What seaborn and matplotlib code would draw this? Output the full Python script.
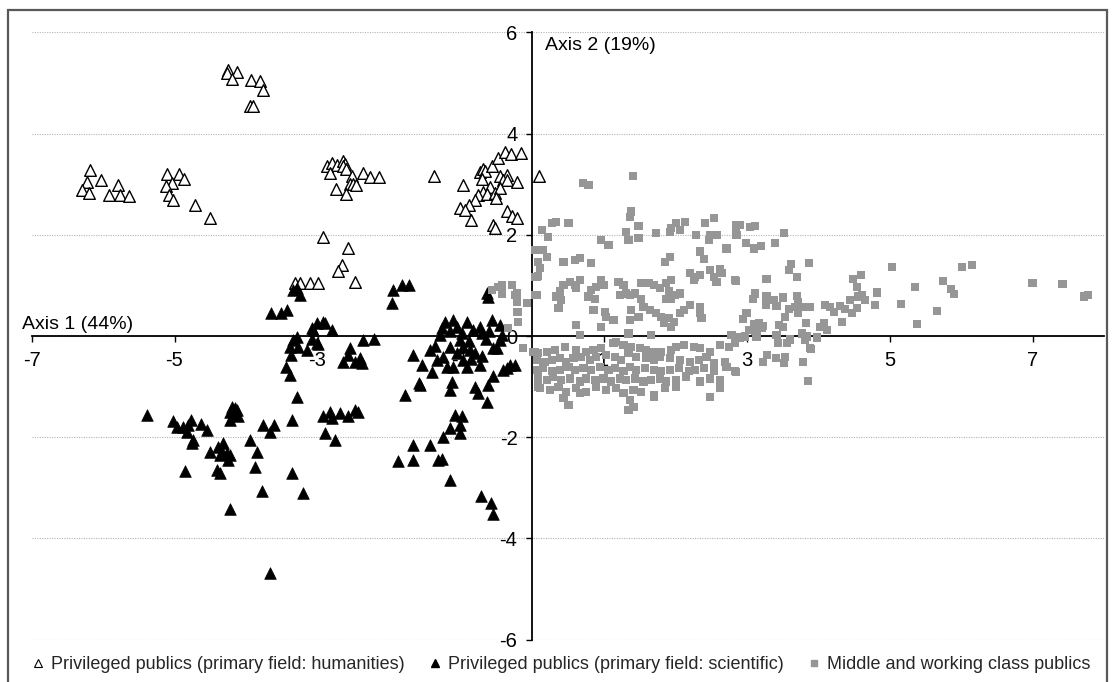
import matplotlib
matplotlib.use("Agg")
import matplotlib.pyplot as plt
from matplotlib.lines import Line2D
from matplotlib.patches import Rectangle
import pandas as pd
import seaborn as sns

# Factor scores (Axis 1, Axis 2) for each respondent group
humanities = [
    (-4.25, 5.26), (-4.13, 5.22), (-4.27, 5.19), (-4.19, 5.07), (-3.93, 5.05), (-3.81, 5.03),
    (-3.76, 4.86), (-3.94, 4.55), (-3.90, 4.55),
    (-6.18, 3.29), (-6.22, 3.05), (-6.03, 3.08), (-6.30, 2.89), (-6.19, 2.82), (-5.91, 2.79),
    (-5.79, 2.98), (-5.76, 2.79), (-5.63, 2.77),
    (-5.11, 3.20), (-4.94, 3.20), (-4.87, 3.10), (-5.04, 3.03), (-5.12, 2.96), (-5.07, 2.79),
    (-5.02, 2.69), (-4.71, 2.59), (-4.51, 2.34),
    (-2.87, 3.36), (-2.80, 3.41), (-2.73, 3.38), (-2.65, 3.46), (-2.62, 3.40), (-2.64, 3.35),
    (-2.60, 3.31), (-2.83, 3.22), (-2.52, 3.16), (-2.55, 3.00), (-2.50, 3.00), (-2.46, 2.98),
    (-2.36, 3.22), (-2.26, 3.14), (-2.14, 3.14), (-2.74, 2.90), (-2.60, 2.81),
    (-2.93, 1.96), (-2.58, 1.74), (-2.66, 1.40), (-2.72, 1.28), (-2.48, 1.07), (-3.31, 1.05),
    (-3.24, 1.05), (-3.10, 1.05), (-2.99, 1.05),
    (-1.37, 3.16), (-0.96, 2.98), (-0.73, 3.25), (-0.69, 3.31), (-0.66, 3.27), (-0.70, 3.10),
    (-0.56, 3.36), (-0.47, 3.51), (-0.38, 3.64), (-0.30, 3.60), (-0.16, 3.62), (-0.45, 3.16),
    (-0.35, 3.18), (-0.40, 3.08), (-0.35, 3.08), (-0.21, 3.05), (-0.59, 2.95), (-0.68, 2.85),
    (-0.75, 2.79), (-0.63, 2.81), (-0.52, 2.83), (-0.45, 2.92), (-0.50, 2.72), (-0.80, 2.69),
    (-0.88, 2.59), (-1.01, 2.52), (-0.94, 2.49), (-0.86, 2.29), (-0.35, 2.48), (-0.28, 2.37),
    (-0.21, 2.33), (-0.54, 2.19), (-0.52, 2.13), (0.10, 3.16),
]

scientific = [
    (-5.38, -1.56), (-5.02, -1.67), (-4.97, -1.79), (-4.88, -1.79), (-4.81, -1.76), (-4.77, -1.66),
    (-4.83, -1.89), (-4.63, -1.74), (-4.55, -1.86), (-4.74, -2.06), (-4.76, -2.12), (-4.50, -2.29),
    (-4.39, -2.19), (-4.32, -2.12), (-4.34, -2.29), (-4.27, -2.32), (-4.22, -2.35), (-4.36, -2.35),
    (-4.25, -2.45), (-4.41, -2.65), (-4.36, -2.70), (-4.85, -2.66), (-4.22, -3.42), (-4.20, -1.40),
    (-4.16, -1.43), (-4.13, -1.46), (-4.22, -1.50), (-4.18, -1.56), (-4.11, -1.59), (-4.22, -1.66),
    (-3.94, -2.06), (-3.85, -2.29), (-3.87, -2.58), (-3.76, -1.76), (-3.66, -1.89), (-3.61, -1.76),
    (-3.77, -3.06), (-3.35, -1.66), (-3.36, -2.71), (-3.20, -3.11), (-3.66, -4.68), (-3.29, -1.21),
    (-3.44, -0.62), (-3.38, -0.77), (-3.65, 0.46), (-3.51, 0.45), (-3.42, 0.51), (-3.38, -0.21),
    (-3.34, -0.08), (-3.29, -0.01), (-3.27, -0.21), (-3.15, -0.28), (-3.37, -0.38), (-3.01, 0.25),
    (-3.08, 0.15), (-3.01, -0.14), (-2.90, 0.25), (-2.92, -1.59), (-2.90, -1.92),
    (-3.29, 0.94), (-3.24, 0.81), (-3.34, 0.91),
    (-2.92, 0.28), (-2.80, 0.12), (-3.06, 0.12), (-3.08, -0.05), (-2.99, -0.16),
    (-2.55, -0.24), (-2.57, -0.38), (-2.64, -0.51), (-2.48, -0.51), (-2.41, -0.44), (-2.38, -0.54),
    (-2.36, -0.08), (-2.21, -0.05),
    (-2.83, -1.50), (-2.80, -1.63), (-2.69, -1.52), (-2.57, -1.59), (-2.48, -1.46), (-2.43, -1.50),
    (-2.76, -2.06),
    (-1.94, 0.90), (-1.82, 1.01), (-1.72, 1.01), (-1.96, 0.66),
    (-1.66, -0.38), (-1.78, -1.17), (-1.58, -0.93), (-1.56, -0.97), (-1.54, -0.57), (-1.43, -0.28),
    (-1.40, -0.71), (-1.33, -0.47),
    (-1.29, 0.02), (-1.26, 0.15), (-1.22, 0.28), (-1.10, 0.32), (-1.05, 0.18), (-0.91, 0.28),
    (-0.82, 0.12), (-0.73, 0.18), (-0.70, 0.05), (-0.56, 0.32), (-0.45, 0.22), (-0.42, 0.02),
    (-0.45, -0.08), (-0.54, -0.24), (-0.49, -0.24),
    (-1.24, -0.41), (-1.19, -0.61), (-1.15, -0.21), (-1.10, -0.61), (-1.05, -0.34), (-1.01, -0.08),
    (-0.96, -0.47), (-0.91, -0.61), (-0.87, -0.28), (-0.80, -0.34), (-0.73, -0.57), (-0.96, -0.21),
    (-1.12, -0.90), (-1.15, -1.07), (-0.80, -1.00), (-0.75, -1.13), (-0.63, -1.30), (-0.61, -0.97),
    (-0.54, -0.80), (-0.40, -0.67), (-0.35, -0.64), (-0.31, -0.57), (-0.24, -0.57), (-0.63, 0.84),
    (-0.61, 0.78),
    (-1.15, 0.10), (-0.98, 0.05), (-0.88, -0.10), (-0.65, -0.05), (-0.60, 0.10), (-1.35, -0.20),
    (-0.70, -0.40), (-0.85, -0.45),
    (-1.08, -1.56), (-0.98, -1.59), (-1.01, -1.76), (-1.15, -1.82), (-1.01, -1.92), (-1.24, -1.99),
    (-1.66, -2.15), (-1.43, -2.15), (-1.88, -2.48), (-1.66, -2.45), (-1.31, -2.45), (-1.26, -2.44),
    (-1.14, -2.85), (-0.71, -3.16), (-0.58, -3.31), (-0.55, -3.52),
]

middle_working = [
    # upper band
    (1.41, 3.16), (0.71, 3.02), (0.79, 2.98), (1.38, 2.46), (1.37, 2.36), (0.28, 2.23), (0.34, 2.26),
    (0.51, 2.23), (0.14, 2.09), (0.23, 1.96), (1.49, 2.17), (1.32, 2.06), (1.35, 1.90), (1.49, 1.93),
    (0.97, 1.90), (1.07, 1.80), (1.74, 2.03), (1.93, 2.06), (2.02, 2.23), (2.14, 2.26), (2.07, 2.09),
    (1.95, 2.13), (2.42, 2.23), (2.54, 2.33), (2.49, 2.00), (2.58, 2.00), (2.30, 2.00), (2.47, 1.90),
    (2.72, 1.73), (2.86, 2.19), (2.86, 2.00), (0.04, 1.70), (0.16, 1.70), (0.21, 1.57), (0.09, 1.47),
    (0.11, 1.34), (0.04, 1.17), (0.09, 1.19), (0.44, 1.47), (0.60, 1.50), (0.67, 1.55), (0.83, 1.45),
    (1.86, 1.47), (1.93, 1.57), (2.35, 1.67), (2.40, 1.53),
    # middle band
    (2.21, 1.24), (2.28, 1.17), (2.35, 1.21), (2.26, 1.11), (2.49, 1.30), (2.63, 1.32), (2.54, 1.17),
    (2.58, 1.07), (2.65, 1.24), (2.84, 1.11), (-0.47, 0.97), (-0.42, 0.88), (-0.28, 1.01),
    (-0.24, 0.81), (-0.21, 0.68), (-0.07, 0.65), (-0.19, 0.48), (-0.19, 0.28), (0.04, 0.81),
    (0.37, 0.55), (0.41, 0.71), (0.44, 1.01), (0.53, 1.07), (0.60, 1.01), (0.62, 0.94), (0.67, 1.11),
    (0.83, 0.91), (0.90, 0.97), (1.00, 1.01), (0.88, 0.74), (0.79, 0.78), (0.86, 0.51), (1.02, 0.48),
    (1.04, 0.38), (1.14, 0.32), (0.97, 1.11), (1.21, 1.07), (1.28, 1.01), (1.32, 0.84), (1.23, 0.81),
    (1.37, 0.81), (1.44, 0.84), (1.53, 1.04), (1.63, 1.04), (1.70, 1.01), (1.79, 0.94), (1.88, 1.04),
    (1.95, 1.11), (1.91, 0.88), (2.00, 0.81), (2.07, 0.84), (1.88, 0.74), (1.95, 0.74), (1.56, 0.58),
    (1.65, 0.51), (1.74, 0.45), (1.81, 0.38), (1.91, 0.35), (1.98, 0.28), (2.07, 0.45), (2.12, 0.51),
    (2.21, 0.61), (2.35, 0.58), (2.35, 0.45), (2.37, 0.35), (1.95, 0.18), (1.84, 0.25), (1.53, 0.74),
    (1.37, 0.32), (1.35, 0.05), (1.67, 0.02), (1.49, 0.38), (1.39, 0.51), (0.97, 0.18), (0.62, 0.22),
    (0.67, 0.02), (0.34, 0.78), (0.39, 0.88),
    (-0.56, 0.91), (-0.42, 1.01), (-0.42, 0.84), (-0.28, 1.01), (-0.21, 0.84), (-0.07, 0.65),
    (-0.21, 0.48), (-0.19, 0.28), (-0.33, 0.15), (0.07, 1.17), (0.07, 0.81), (-0.12, -0.24),
    (0.04, -0.31), (0.09, -0.77), (0.09, -1.00),
    # lower band
    (-0.13, -0.24), (0.02, -0.31), (0.09, -0.33), (0.21, -0.31), (0.32, -0.28), (0.46, -0.21),
    (0.62, -0.28), (0.76, -0.31), (0.86, -0.28), (0.97, -0.24), (1.14, -0.14), (1.18, -0.11),
    (1.28, -0.18), (1.39, -0.21), (1.51, -0.24), (1.60, -0.28), (1.70, -0.31), (1.81, -0.31),
    (1.95, -0.28), (2.02, -0.21), (2.12, -0.18), (2.26, -0.21), (2.35, -0.24), (2.49, -0.31),
    (2.63, -0.18), (2.75, -0.21), (2.84, -0.14),
    (0.07, -0.47), (0.18, -0.51), (0.28, -0.47), (0.39, -0.44), (0.48, -0.51), (0.58, -0.44),
    (0.69, -0.41), (0.81, -0.47), (0.90, -0.41), (1.04, -0.38), (1.16, -0.41), (1.25, -0.47),
    (1.35, -0.34), (1.46, -0.41), (1.60, -0.44), (1.70, -0.47), (1.79, -0.41), (1.93, -0.44),
    (2.07, -0.47), (2.21, -0.51), (2.33, -0.47), (2.44, -0.41), (2.54, -0.54), (2.70, -0.51),
    (0.07, -0.67), (0.16, -0.64), (0.28, -0.70), (0.39, -0.67), (0.51, -0.61), (0.60, -0.67),
    (0.72, -0.64), (0.83, -0.67), (0.95, -0.61), (1.07, -0.67), (1.16, -0.64), (1.28, -0.70),
    (1.37, -0.61), (1.46, -0.67), (1.58, -0.64), (1.70, -0.67), (1.81, -0.70), (1.93, -0.67),
    (2.05, -0.64), (2.19, -0.70), (2.28, -0.67), (2.40, -0.64), (2.54, -0.70), (2.72, -0.61),
    (2.84, -0.70),
    (0.09, -0.84), (0.21, -0.87), (0.30, -0.80), (0.41, -0.87), (0.53, -0.84), (0.67, -0.90),
    (0.76, -0.84), (0.88, -0.87), (1.00, -0.84), (1.11, -0.90), (1.23, -0.84), (1.32, -0.87),
    (1.44, -0.84), (1.56, -0.90), (1.67, -0.87), (1.79, -0.84), (1.88, -0.90), (2.02, -0.87),
    (2.16, -0.80), (2.35, -0.90), (2.49, -0.84), (2.63, -0.87),
    (0.11, -1.03), (0.25, -1.07), (0.37, -1.00), (0.48, -1.10), (0.62, -1.03), (0.76, -1.10),
    (0.90, -1.00), (1.04, -1.07), (1.18, -1.03), (1.28, -1.13), (1.42, -1.07), (1.53, -1.10),
    (1.70, -1.17), (1.86, -1.03), (2.02, -1.00), (2.49, -1.20), (2.63, -1.03),
    (0.51, -1.36), (0.67, -1.13), (1.37, -1.26), (1.42, -1.40), (1.35, -1.46), (0.44, -1.23),
    (1.70, -1.20),
    # right-hand spread
    (2.85, 2.06), (2.91, 2.19), (3.05, 2.16), (3.12, 2.17), (3.52, 2.04), (2.99, 1.84), (3.10, 1.73),
    (3.20, 1.77), (3.40, 1.84), (3.62, 1.42), (3.60, 1.30), (3.87, 1.45), (3.70, 1.16), (2.85, 1.09),
    (3.28, 1.13), (3.12, 0.84), (3.09, 0.73), (3.28, 0.78), (3.27, 0.61), (3.38, 0.71), (3.42, 0.59),
    (3.51, 0.76), (3.70, 0.79), (3.72, 0.68), (3.60, 0.53), (3.68, 0.57), (3.77, 0.57), (3.89, 0.57),
    (3.72, 0.45), (3.54, 0.37), (3.51, 0.18), (3.45, 0.22), (3.00, 0.46), (2.95, 0.33), (3.10, 0.24),
    (3.17, 0.25), (3.23, 0.20), (3.03, 0.11), (3.12, 0.09), (3.21, 0.15), (3.14, -0.01), (2.98, -0.01),
    (2.79, 0.02), (2.91, -0.03), (3.42, 0.02), (3.61, -0.07), (3.57, -0.13), (3.44, -0.14),
    (3.77, 0.05), (3.84, -0.01), (3.99, -0.03), (3.82, -0.07), (3.89, -0.24), (3.83, 0.26),
    (4.03, 0.18), (4.08, 0.25), (4.12, 0.11), (4.10, 0.61), (4.17, 0.58), (4.22, 0.48), (4.31, 0.59),
    (4.38, 0.53), (4.33, 0.28), (4.45, 0.71), (4.48, 0.46), (4.54, 0.55), (4.56, 0.78), (4.61, 0.81),
    (4.66, 0.71), (4.55, 0.96), (4.49, 1.13), (4.60, 1.21), (4.82, 0.86), (4.80, 0.61), (5.03, 1.37),
    (5.16, 0.63), (5.36, 0.97), (5.39, 0.24), (5.66, 0.50), (5.75, 1.09), (5.86, 0.92), (5.90, 0.83),
    (6.01, 1.37), (6.16, 1.41), (7.00, 1.05), (7.42, 1.03), (7.72, 0.78), (7.78, 0.81),
    (3.23, -0.51), (3.29, -0.38), (3.41, -0.44), (3.52, -0.54), (3.54, -0.41), (3.79, -0.51),
    (3.90, -0.26), (2.85, -0.72), (3.86, -0.89),
]

group_labels = [
    "Privileged publics (primary field: humanities)",
    "Privileged publics (primary field: scientific)",
    "Middle and working class publics",
]
x_ticks = [-7, -5, -3, -1, 1, 3, 5, 7]
y_ticks = [-6, -4, -2, 0, 2, 4, 6]
axis1_label = "Axis 1 (44%)"
axis2_label = "Axis 2 (19%)"

frames = []
for label, pts in zip(group_labels, [humanities, scientific, middle_working]):
    df = pd.DataFrame(pts, columns=["axis1", "axis2"])
    df["group"] = label
    frames.append(df)

sns.set_theme(style="white")
plt.rcParams["font.family"] = ["Liberation Sans", "DejaVu Sans"]
plt.rcParams["axes.unicode_minus"] = False

fig = plt.figure(figsize=(11.15, 6.82), dpi=100)
ax = fig.add_axes([31.5 / 1115, 1 - 639.6 / 682, (1104 - 31.5) / 1115, (639.6 - 32.4) / 682])

sns.scatterplot(data=frames[0], x="axis1", y="axis2", marker="^", s=70,
                facecolor="white", edgecolor="black", linewidth=1.0, ax=ax, zorder=3)
sns.scatterplot(data=frames[1], x="axis1", y="axis2", marker="^", s=70,
                color="black", edgecolor="black", linewidth=0.5, ax=ax, zorder=4)
sns.scatterplot(data=frames[2], x="axis1", y="axis2", marker="s", s=34,
                color="#969696", edgecolor="none", linewidth=0, ax=ax, zorder=5)

ax.set_xlim(-7, 8)
ax.set_ylim(-6, 6)
ax.set_xticks(x_ticks)
ax.set_yticks(y_ticks)
ax.set_xlabel("")
ax.set_ylabel("")
ax.set_axisbelow(True)

ax.yaxis.grid(True, linestyle=(0, (1, 1.2)), color="#b4b4b4", linewidth=0.8)
ax.xaxis.grid(False)

for side in ("top", "right"):
    ax.spines[side].set_visible(False)
ax.spines["left"].set_position(("data", 0))
ax.spines["bottom"].set_position(("data", 0))
for side in ("left", "bottom"):
    ax.spines[side].set_color("black")
    ax.spines[side].set_linewidth(1.3)
    ax.spines[side].set_zorder(2)

ax.tick_params(axis="both", direction="out", length=4.5, width=1.0, color="black",
               labelsize=14.5, labelcolor="black", pad=6)
ax.tick_params(left=True, bottom=True)

ax.text(-7.13, 0.06, axis1_label, ha="left", va="bottom", fontsize=14, color="black")
ax.text(0.18, 5.9, axis2_label, ha="left", va="top", fontsize=14, color="black")

handles = [
    Line2D([], [], linestyle="none", marker="^", markersize=6, markerfacecolor="white",
           markeredgecolor="black", markeredgewidth=0.8),
    Line2D([], [], linestyle="none", marker="^", markersize=6, markerfacecolor="black",
           markeredgecolor="black"),
    Line2D([], [], linestyle="none", marker="s", markersize=5, markerfacecolor="#969696",
           markeredgecolor="#969696"),
]
fig.legend(handles, group_labels, loc="center", bbox_to_anchor=(0.503, 0.025), ncol=3,
           frameon=False, fontsize=13, handlelength=0.8, handletextpad=0.3,
           columnspacing=1.3, borderaxespad=0)

fig.patches.append(Rectangle((8 / 1115, -0.05), (1107 - 8) / 1115, 1.05 - 10 / 682,
                             transform=fig.transFigure, fill=False, edgecolor="#595959",
                             linewidth=1.6, zorder=0))

fig.savefig("out.png", dpi=100)
